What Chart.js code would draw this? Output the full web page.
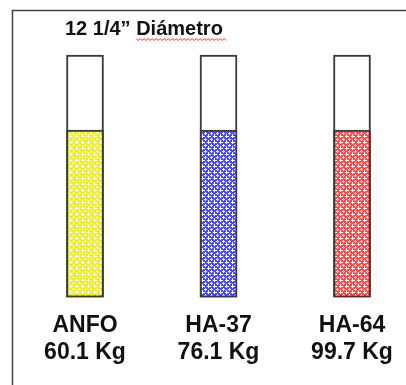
<!DOCTYPE html>
<html>
<head>
<meta charset="utf-8">
<script src="https://cdn.jsdelivr.net/npm/chart.js@4"></script>
<style>
	body{ margin: 0; background: #fff; }
	#grafico_carga{ display: block; }
</style>
</head>
<body>
<canvas id="grafico_carga" width="406" height="385"></canvas>
<script>
//----------------------------------------Datos----------------------------------------
const explosivos = ["ANFO", "HA-37", "HA-64"];
const kg_por_metro = [60.1, 76.1, 99.7];
const altura_total = [100, 100, 100];
const nivel_carga = [69, 69, 69];
const colores = ["#eeee22", "#4a4aff", "#ff4a4a"];
const titulo = "12 1/4\u201D Di\u00E1metro";


//----------------------------------------Funciones----------------------------------------
//Crea el patron de trama (color con cruces blancas)
function crear_trama(color){
	const c = document.createElement("canvas");
	c.width = 6;
	c.height = 6;
	const ctx = c.getContext("2d");
	ctx.fillStyle = color;
	ctx.fillRect(0, 0, 6, 6);
	ctx.fillStyle = "#ffffff";
	[[1, 1], [4, 4]].forEach(p => {
		ctx.fillRect(p[0], p[1] - 1, 1, 3);
		ctx.fillRect(p[0] - 1, p[1], 3, 1);
	});
	ctx.fillRect(4, 2, 1, 1);
	ctx.fillRect(0, 4, 1, 1);
	return ctx.createPattern(c, "repeat");
}

//Etiquetas de dos lineas para el eje x
function etiquetas(){
	return explosivos.map((n, i) => [n, kg_por_metro[i].toFixed(1) + " Kg"]);
}

//Marco, titulo y subrayado rojo
const marco_titulo = {
	id: "marco_titulo",
	beforeDraw(chart){
		const ctx = chart.ctx;
		ctx.save();
		ctx.strokeStyle = "#444";
		ctx.lineWidth = 1.5;
		ctx.beginPath();
		ctx.moveTo(406, 10.5);
		ctx.lineTo(12.5, 10.5);
		ctx.lineTo(12.5, 385);
		ctx.stroke();

		ctx.fillStyle = "#111";
		ctx.font = "bold 20px 'Liberation Sans', Arial, sans-serif";
		ctx.textBaseline = "alphabetic";
		ctx.fillText(titulo, 65, 35);

		//subrayado ondulado bajo "Diámetro"
		const x0 = 65 + ctx.measureText("12 1/4\u201D ").width;
		const x1 = 65 + ctx.measureText(titulo).width + 4;
		ctx.strokeStyle = "#e03030";
		ctx.lineWidth = 1;
		ctx.beginPath();
		for(let x = x0; x <= x1; x += 2){
			const y = 39.5 + ((Math.round((x - x0) / 2) % 2) ? 1 : -1);
			if(x === x0) ctx.moveTo(x, y); else ctx.lineTo(x, y);
		}
		ctx.stroke();
		ctx.restore();
	}
};


//----------------------------------------Grafico----------------------------------------
const lienzo = document.getElementById("grafico_carga");
const tramas = colores.map(c => crear_trama(c));

new Chart(lienzo, {
	type: "bar",
	data: {
		labels: etiquetas(),
		datasets: [{
			label: "Carga",
			data: nivel_carga,
			backgroundColor: tramas,
			borderColor: "#3a3a3a",
			borderWidth: 2,
			borderSkipped: false,
			barThickness: 37,
			order: 0,
			clip: false
		}, {
			label: "Altura",
			data: altura_total,
			backgroundColor: "#ffffff",
			borderColor: "#3a3a3a",
			borderWidth: 2,
			borderSkipped: false,
			barThickness: 37,
			order: 1,
			clip: false
		}]
	},
	options: {
		responsive: false,
		animation: false,
		layout: {
			padding: { left: 85, right: 54, top: 55, bottom: 12 }
		},
		datasets: {
			bar: { grouped: false }
		},
		scales: {
			x: {
				offset: false,
				grid: { display: false },
				border: { display: false },
				ticks: {
					color: "#111",
					padding: 7,
					maxRotation: 0,
					autoSkip: false,
					font: { family: "'Liberation Sans', Arial, sans-serif", size: 23, weight: "bold", lineHeight: 1.17 }
				}
			},
			y: {
				display: false,
				min: 0,
				max: 100
			}
		},
		plugins: {
			legend: { display: false },
			tooltip: { enabled: false }
		}
	},
	plugins: [marco_titulo]
});
</script>
</body>
</html>
